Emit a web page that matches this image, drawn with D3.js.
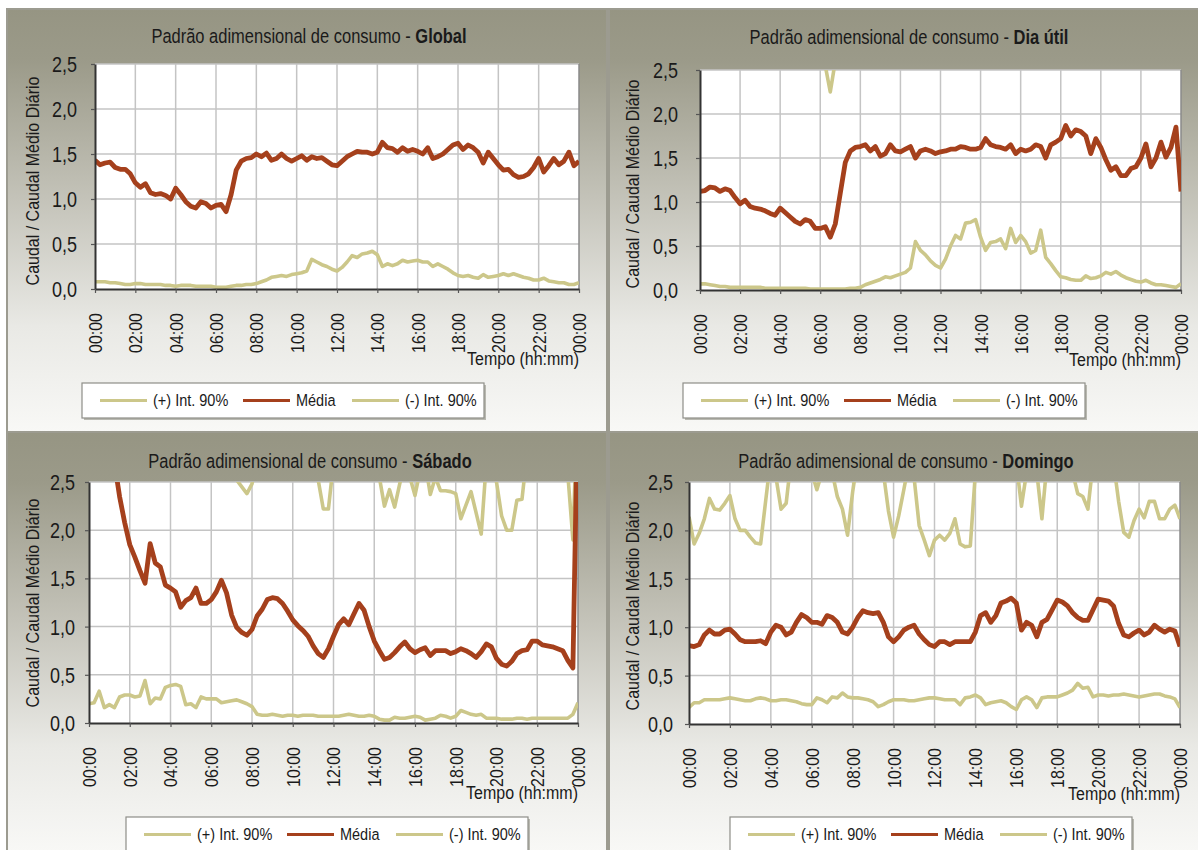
<!DOCTYPE html>
<html><head><meta charset="utf-8">
<script src="https://cdn.jsdelivr.net/npm/d3@7"></script>
<style>body{margin:0;background:#fff}svg{display:block}</style>
</head><body>
<svg id="c" width="1198" height="850"></svg>
<script>
// ---------------- DATA ----------------
const xTickHours = [0,2,4,6,8,10,12,14,16,18,20,22,24];
const xTickLabels = ["00:00","02:00","04:00","06:00","08:00","10:00","12:00","14:00","16:00","18:00","20:00","22:00","00:00"];
const yTicks = [0,0.5,1,1.5,2,2.5];
const yTickLabels = ["0,0","0,5","1,0","1,5","2,0","2,5"];
const seriesNames = ["(+) Int. 90%","Média","(-) Int. 90%"];
const titlePrefix = "Padrão adimensional de consumo - ";
const chartNames = ["Global","Dia útil","Sábado","Domingo"];
const yAxisTitle = "Caudal / Caudal Médio Diário";
const xAxisTitle = "Tempo (hh:mm)";

// Global (values above 2,5 are outside the plot)
const globalUpper = [
 3.4,3.3,3.5,3.2,3.3,3.1,3.2,3.0,
 3.1,3.2,3.0,2.9,3.1,3.0,3.3,3.4,
 3.5,3.3,3.6,3.4,3.5,3.7,3.6,3.5,
 3.4,3.6,3.7,3.8,3.6,3.5,3.7,3.6,
 3.5,3.6,3.4,3.5,3.7,3.5,3.4,3.6,
 3.3,3.4,3.2,3.3,3.4,3.3,3.2,3.4,
 3.3];
const globalMean = [
 1.43,1.38,1.40,1.41,1.35,1.33,1.33,1.28,
 1.18,1.13,1.17,1.07,1.05,1.06,1.04,1.00,
 1.12,1.05,0.97,0.92,0.90,0.97,0.95,0.90,
 0.93,0.94,0.86,1.05,1.32,1.42,1.45,1.46,
 1.50,1.47,1.51,1.43,1.45,1.50,1.45,1.42,
 1.45,1.48,1.43,1.47,1.45,1.46,1.42,1.38,
 1.37,1.42,1.47,1.50,1.53,1.52,1.52,1.50,
 1.52,1.63,1.57,1.56,1.52,1.57,1.53,1.55,
 1.53,1.50,1.57,1.45,1.47,1.50,1.55,1.60,
 1.62,1.55,1.60,1.57,1.52,1.40,1.52,1.45,
 1.38,1.32,1.33,1.27,1.24,1.25,1.28,1.35,
 1.45,1.30,1.37,1.45,1.38,1.42,1.52,1.37,
 1.42];
const globalLower = [
 0.08,0.08,0.08,0.07,0.07,0.06,0.05,0.05,
 0.06,0.06,0.05,0.05,0.05,0.05,0.04,0.04,
 0.03,0.04,0.04,0.04,0.03,0.03,0.03,0.03,
 0.02,0.02,0.02,0.03,0.04,0.04,0.05,0.05,
 0.06,0.08,0.10,0.13,0.14,0.15,0.14,0.16,
 0.17,0.18,0.20,0.33,0.30,0.27,0.25,0.22,
 0.20,0.24,0.30,0.37,0.35,0.39,0.40,0.42,
 0.38,0.25,0.28,0.26,0.28,0.32,0.30,0.31,
 0.32,0.30,0.30,0.25,0.28,0.25,0.22,0.18,
 0.15,0.14,0.15,0.13,0.12,0.16,0.13,0.14,
 0.15,0.17,0.15,0.17,0.15,0.13,0.12,0.10,
 0.10,0.12,0.09,0.08,0.07,0.07,0.05,0.05,
 0.07];

// Dia útil
const diaUpper = [
 3.1,3.3,3.0,3.2,3.4,3.1,3.3,3.0,
 3.2,3.1,3.3,3.0,3.2,3.4,3.1,3.0,
 3.2,3.0,3.1,2.9,3.0,2.8,2.9,2.7,
 2.8,2.55,2.25,2.6,2.9,3.1,3.3,3.2,
 3.4,3.3,3.5,3.2,3.4,3.6,3.3,3.5,
 3.4,3.6,3.8,3.5,3.7,3.4,3.6,3.5,
 3.3,3.5,3.6,3.8,3.7,3.9,3.6,3.8,
 3.7,3.5,3.6,3.4,3.7,3.5,3.8,3.6,
 3.7,3.5,3.4,3.6,3.5,3.3,3.4,3.2,
 3.5,3.6,3.4,3.5,3.3,3.4,3.2,3.3,
 3.1,3.3,3.2,3.0,3.1,3.2,3.0,3.1,
 3.3,3.2,3.0,3.1,3.4,3.2,3.3,3.5,
 3.0];
const diaMean = [
 1.12,1.13,1.17,1.16,1.12,1.15,1.13,1.05,
 0.98,1.02,0.95,0.93,0.92,0.90,0.87,0.85,
 0.93,0.88,0.83,0.78,0.75,0.80,0.78,0.70,
 0.70,0.72,0.60,0.75,1.10,1.45,1.58,1.62,
 1.63,1.65,1.58,1.63,1.52,1.55,1.65,1.58,
 1.57,1.60,1.63,1.50,1.58,1.60,1.58,1.55,
 1.57,1.58,1.60,1.60,1.63,1.62,1.60,1.60,
 1.62,1.72,1.65,1.63,1.62,1.60,1.65,1.55,
 1.60,1.58,1.60,1.65,1.63,1.50,1.65,1.68,
 1.72,1.87,1.75,1.82,1.80,1.75,1.55,1.72,
 1.62,1.48,1.36,1.40,1.30,1.30,1.38,1.40,
 1.50,1.66,1.40,1.50,1.68,1.51,1.62,1.85,
 1.12];
const diaLower = [
 0.07,0.07,0.06,0.05,0.04,0.04,0.03,0.03,
 0.03,0.03,0.03,0.03,0.03,0.02,0.02,0.02,
 0.02,0.02,0.02,0.02,0.02,0.02,0.01,0.01,
 0.01,0.01,0.01,0.01,0.01,0.01,0.02,0.02,
 0.03,0.06,0.08,0.10,0.12,0.15,0.14,0.16,
 0.18,0.20,0.25,0.55,0.45,0.40,0.33,0.28,
 0.25,0.35,0.50,0.62,0.58,0.76,0.77,0.80,
 0.60,0.45,0.54,0.55,0.58,0.47,0.70,0.54,
 0.62,0.55,0.42,0.45,0.68,0.37,0.30,0.22,
 0.15,0.14,0.12,0.11,0.11,0.16,0.13,0.14,
 0.16,0.20,0.18,0.21,0.17,0.14,0.12,0.10,
 0.09,0.11,0.08,0.06,0.06,0.05,0.04,0.03,
 0.07];

// Sábado
const sabUpper = [
 3.4,3.6,3.9,4.1,3.8,3.5,3.7,3.4,
 3.2,3.5,3.3,3.1,3.4,3.2,3.0,3.3,
 3.1,2.9,3.2,3.0,3.3,3.1,2.9,3.1,
 3.0,2.8,3.0,2.9,2.8,2.52,2.45,2.38,
 2.48,2.75,2.9,3.1,3.0,2.9,3.1,2.9,
 3.0,3.2,3.0,2.9,2.9,2.52,2.22,2.22,
 2.7,2.9,3.1,3.0,3.2,3.0,2.9,2.8,
 2.9,2.55,2.25,2.42,2.24,2.48,2.7,2.55,
 2.36,2.62,2.7,2.37,2.55,2.41,2.41,2.40,
 2.38,2.12,2.26,2.40,2.18,1.96,2.7,2.9,
 2.5,2.15,2.0,2.0,2.31,2.32,2.8,3.0,
 3.1,2.9,3.0,3.2,2.9,3.0,2.58,1.9,
 3.5];
const sabMean = [
 4.5,4.2,3.9,3.6,3.2,2.7,2.35,2.08,
 1.85,1.72,1.58,1.45,1.86,1.66,1.62,1.43,
 1.40,1.36,1.20,1.27,1.30,1.40,1.24,1.24,
 1.28,1.36,1.48,1.35,1.12,0.99,0.94,0.91,
 0.97,1.11,1.18,1.28,1.30,1.29,1.24,1.16,
 1.07,1.01,0.96,0.90,0.80,0.72,0.68,0.77,
 0.90,1.02,1.08,1.02,1.13,1.24,1.17,1.00,
 0.85,0.75,0.66,0.68,0.73,0.79,0.84,0.77,
 0.73,0.76,0.78,0.70,0.75,0.75,0.75,0.72,
 0.74,0.77,0.75,0.72,0.68,0.74,0.82,0.79,
 0.67,0.61,0.59,0.64,0.72,0.75,0.76,0.85,
 0.85,0.81,0.80,0.79,0.77,0.75,0.65,0.57,
 3.5];
const sabLower = [
 0.20,0.21,0.33,0.16,0.19,0.16,0.27,0.29,
 0.29,0.27,0.28,0.44,0.20,0.26,0.25,0.37,
 0.39,0.40,0.38,0.19,0.20,0.16,0.27,0.25,
 0.25,0.25,0.21,0.22,0.23,0.24,0.22,0.20,
 0.17,0.09,0.08,0.08,0.09,0.08,0.07,0.08,
 0.08,0.07,0.08,0.08,0.08,0.07,0.07,0.07,
 0.07,0.07,0.08,0.09,0.08,0.07,0.07,0.08,
 0.07,0.04,0.03,0.03,0.06,0.05,0.05,0.06,
 0.07,0.06,0.03,0.04,0.05,0.08,0.07,0.05,
 0.07,0.13,0.11,0.09,0.08,0.09,0.05,0.05,
 0.05,0.04,0.04,0.04,0.05,0.05,0.04,0.05,
 0.05,0.05,0.05,0.05,0.05,0.05,0.05,0.09,
 0.21];

// Domingo
const domUpper = [
 2.14,1.86,1.97,2.12,2.33,2.22,2.21,2.28,
 2.36,2.12,2.00,2.00,1.93,1.87,1.86,2.31,
 2.75,2.55,2.22,2.28,2.75,3.1,3.3,3.0,
 2.6,2.42,2.6,2.9,2.6,2.35,2.22,1.95,
 2.4,2.75,3.1,3.3,3.2,2.9,2.6,2.2,
 1.93,2.15,2.42,2.7,2.55,2.05,1.90,1.74,
 1.90,1.95,1.90,1.97,2.12,1.86,1.83,1.84,
 2.6,3.2,3.4,3.5,3.3,3.6,3.2,2.9,
 2.7,2.25,2.6,2.9,2.6,2.12,2.7,3.1,
 3.4,3.2,2.9,2.6,2.38,2.35,2.22,2.7,
 3.1,3.3,3.0,2.7,2.3,1.98,1.93,2.1,
 2.22,2.13,2.3,2.3,2.12,2.12,2.22,2.26,
 2.12];
const domMean = [
 0.81,0.80,0.82,0.92,0.97,0.93,0.93,0.97,
 0.98,0.93,0.87,0.85,0.85,0.85,0.86,0.83,
 0.95,1.02,1.00,0.92,0.95,1.05,1.13,1.10,
 1.05,1.05,1.03,1.12,1.10,1.05,0.95,0.93,
 1.00,1.10,1.17,1.15,1.14,1.15,1.05,0.90,
 0.85,0.90,0.97,1.00,1.02,0.93,0.87,0.82,
 0.80,0.85,0.85,0.82,0.85,0.85,0.85,0.85,
 0.95,1.12,1.15,1.05,1.12,1.25,1.27,1.30,
 1.25,0.97,1.05,1.02,0.90,1.05,1.08,1.18,
 1.28,1.26,1.22,1.15,1.10,1.07,1.07,1.18,
 1.29,1.28,1.27,1.22,1.04,0.92,0.90,0.94,
 0.97,0.92,0.95,1.02,0.98,0.95,0.98,0.96,
 0.80];
const domLower = [
 0.17,0.22,0.22,0.25,0.25,0.25,0.25,0.26,
 0.27,0.26,0.25,0.24,0.24,0.26,0.27,0.26,
 0.24,0.24,0.25,0.25,0.24,0.23,0.21,0.20,
 0.20,0.27,0.25,0.22,0.28,0.27,0.32,0.28,
 0.27,0.27,0.26,0.25,0.23,0.18,0.20,0.23,
 0.25,0.25,0.25,0.24,0.24,0.25,0.26,0.27,
 0.27,0.26,0.25,0.25,0.25,0.20,0.27,0.28,
 0.30,0.27,0.20,0.22,0.23,0.24,0.22,0.18,
 0.15,0.25,0.28,0.25,0.17,0.27,0.28,0.28,
 0.28,0.30,0.32,0.35,0.42,0.37,0.38,0.28,
 0.30,0.30,0.29,0.30,0.30,0.31,0.30,0.29,
 0.28,0.29,0.30,0.31,0.31,0.29,0.28,0.26,
 0.17];

// ---------------- LAYOUT / STYLE ----------------
const FONT = "'Liberation Sans', Arial, sans-serif";
const COL_MEAN = "#a5401c";
const COL_INT = "#ccc78a";
const TXT = "#1a1a1a";
const SY = 1.18; // tall glyph look of the original export

const charts = [
 {name:chartNames[0], upper:globalUpper, mean:globalMean, lower:globalLower,
  panel:[7,9,600,423], plot:{l:95,r:579,t:64,b:289}, title:[309,37], yLab:18, yTitle:[33,181], legend:[82,383]},
 {name:chartNames[1], upper:diaUpper, mean:diaMean, lower:diaLower,
  panel:[609,9,592,423], plot:{l:700,r:1181,t:70,b:290}, title:[909,38], yLab:22, yTitle:[633,184], legend:[683,383]},
 {name:chartNames[2], upper:sabUpper, mean:sabMean, lower:sabLower,
  panel:[7,432,600,420], plot:{l:89,r:578,t:482,b:723}, title:[310,462], yLab:14, yTitle:[33,603], legend:[126,817]},
 {name:chartNames[3], upper:domUpper, mean:domMean, lower:domLower,
  panel:[609,432,592,420], plot:{l:689,r:1180,t:482,b:724}, title:[906,462], yLab:16, yTitle:[633,606], legend:[730,817]}
];

const svg = d3.select("#c");
const defs = svg.append("defs");
const grad = defs.append("linearGradient").attr("id","bg").attr("x1",0).attr("y1",0).attr("x2",0).attr("y2",1);
[[0,"#969583"],[0.12,"#9b9a89"],[0.45,"#c4c3b9"],[0.75,"#e9e9e5"],[1,"#f8f8f6"]]
  .forEach(([o,c])=>grad.append("stop").attr("offset",o).attr("stop-color",c));

function txt(g, x, y, s, o = {}) {
  const t = g.append("text")
    .attr("transform", `translate(${x},${y})` + (o.rot ? ` rotate(${o.rot})` : "") + ` scale(${o.sx||1},${o.sy||SY})`)
    .attr("font-family", FONT).attr("font-size", o.size || 16)
    .attr("text-anchor", o.anchor || "start")
    .attr("dominant-baseline", "central")
    .attr("fill", TXT);
  if (o.weight) t.attr("font-weight", o.weight);
  if (s !== null) t.text(s);
  return t;
}

charts.forEach((c, ci) => {
  const g = svg.append("g");
  const [px, py, pw, ph] = c.panel;
  g.append("rect").attr("x", px).attr("y", py).attr("width", pw).attr("height", ph)
    .attr("fill", "url(#bg)").attr("stroke", "#9c9b90").attr("stroke-width", 2);

  const P = c.plot;
  const x = d3.scaleLinear().domain([0, 24]).range([P.l, P.r]);
  const y = d3.scaleLinear().domain([0, 2.5]).range([P.b, P.t]);

  g.append("rect").attr("x", P.l).attr("y", P.t).attr("width", P.r - P.l).attr("height", P.b - P.t)
    .attr("fill", "#ffffff");

  // gridlines
  g.append("g").selectAll("line").data(yTicks.slice(1)).join("line")
    .attr("x1", P.l).attr("x2", P.r).attr("y1", d => y(d)).attr("y2", d => y(d))
    .attr("stroke", "#c4c4c4").attr("stroke-width", 1.5);
  g.append("g").selectAll("line").data(xTickHours.slice(1)).join("line")
    .attr("y1", P.t).attr("y2", P.b).attr("x1", d => x(d)).attr("x2", d => x(d))
    .attr("stroke", d => d === 24 ? "#8a8a8a" : "#c4c4c4").attr("stroke-width", 1.5);

  const clipId = "clip" + ci;
  defs.append("clipPath").attr("id", clipId).append("rect")
    .attr("x", P.l).attr("y", P.t).attr("width", P.r - P.l).attr("height", P.b - P.t);

  const lineGen = arr => d3.line()
    .x((d, i) => x(i * 24 / (arr.length - 1)))
    .y(d => y(d))(arr);

  const lg = g.append("g").attr("clip-path", `url(#${clipId})`);
  lg.append("path").attr("d", lineGen(c.upper)).attr("fill", "none")
    .attr("stroke", COL_INT).attr("stroke-width", 3.6).attr("stroke-linejoin", "round");
  lg.append("path").attr("d", lineGen(c.mean)).attr("fill", "none")
    .attr("stroke", COL_MEAN).attr("stroke-width", 4.8).attr("stroke-linejoin", "round");
  lg.append("path").attr("d", lineGen(c.lower)).attr("fill", "none")
    .attr("stroke", COL_INT).attr("stroke-width", 3.6).attr("stroke-linejoin", "round");

  // axes
  const yAx = g.append("g").attr("transform", `translate(${P.l},0)`)
    .call(d3.axisLeft(y).tickValues(yTicks).tickFormat((d, i) => yTickLabels[i])
      .tickSize(4).tickSizeOuter(0).tickPadding(c.yLab - 4));
  yAx.select(".domain").attr("stroke", "#333").attr("stroke-width", 2);
  yAx.selectAll(".tick line").attr("stroke", "#555").attr("stroke-width", 1.2);
  yAx.selectAll(".tick text").attr("font-family", FONT).attr("font-size", 18).attr("fill", TXT)
    .attr("dy", null).attr("dominant-baseline", "central")
    .attr("transform", `scale(1,${SY})`);

  const xAx = g.append("g").attr("transform", `translate(0,${P.b})`)
    .call(d3.axisBottom(x).tickValues(xTickHours).tickFormat((d, i) => xTickLabels[i])
      .tickSize(4).tickSizeOuter(0));
  xAx.select(".domain").attr("stroke", "#333").attr("stroke-width", 2);
  xAx.selectAll(".tick line").attr("stroke", "#555").attr("stroke-width", 1.2);
  xAx.selectAll(".tick text")
    .attr("font-family", FONT).attr("font-size", 16).attr("fill", TXT)
    .attr("transform", `rotate(-90) scale(1,${SY})`).attr("text-anchor", "end")
    .attr("x", -24).attr("y", 0).attr("dy", null).attr("dominant-baseline", "central");

  // titles
  const t = txt(g, c.title[0], c.title[1], null, {size: 16.5, anchor: "middle"});
  t.append("tspan").text(titlePrefix);
  t.append("tspan").attr("font-weight", "bold").text(c.name);

  txt(g, c.yTitle[0], c.yTitle[1], yAxisTitle, {size: 16, anchor: "middle", rot: -90});
  txt(g, P.r, P.b + 70, xAxisTitle, {size: 16, anchor: "end"});

  // legend
  const [lx, ly] = c.legend;
  const L = g.append("g").attr("transform", `translate(${lx},${ly})`);
  L.append("rect").attr("x", 2).attr("y", 2).attr("width", 402).attr("height", 35).attr("fill", "#b8b8b0");
  L.append("rect").attr("width", 402).attr("height", 35).attr("fill", "#ffffff")
    .attr("stroke", "#8e8e88").attr("stroke-width", 1.2);
  const lineOff = [18, 161, 270], textOff = [71, 214, 323];
  const cols = [COL_INT, COL_MEAN, COL_INT];
  seriesNames.forEach((n, i) => {
    L.append("line").attr("x1", lineOff[i]).attr("x2", lineOff[i] + 47).attr("y1", 17.5).attr("y2", 17.5)
      .attr("stroke", cols[i]).attr("stroke-width", 3);
    txt(L, textOff[i], 17.5, n, {size: 14.5});
  });
});
</script>
</body></html>
